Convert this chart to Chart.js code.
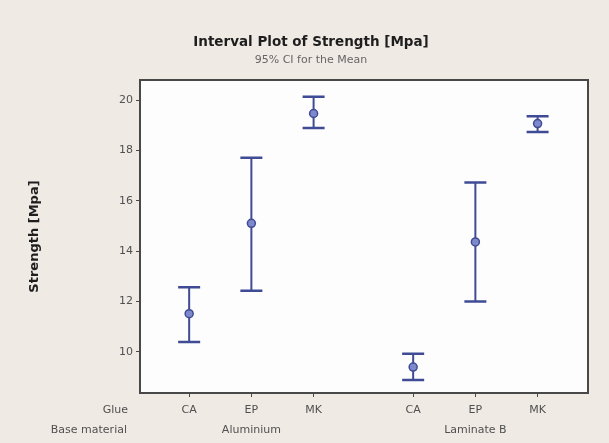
<!DOCTYPE html>
<html>
<head>
<meta charset="utf-8">
<title>Interval Plot of Strength [Mpa]</title>
<script src="https://cdn.jsdelivr.net/npm/chart.js@4.4.1/dist/chart.umd.min.js"></script>
<style>
  html, body { margin: 0; padding: 0; background: #efeae4; }
  #wrap { width: 609px; height: 443px; }
</style>
</head>
<body>
<div id="wrap"><canvas id="chart" width="609" height="443"></canvas></div>
<script>
  // ===== Data =====
  const glues         = ['CA', 'EP', 'MK'];
  const baseMaterials = ['Aluminium', 'Laminate B'];
  const means = [11.52, 15.11, 19.47, 9.40, 14.37, 19.07];
  const lower = [10.40, 12.43, 18.89, 8.89, 12.00, 18.73];
  const upper = [12.57, 17.71, 20.13, 9.93, 16.73, 19.36];
  const yTicks = [10, 12, 14, 16, 18, 20];

  // ===== Layout helpers =====
  const GROUP_GAP = 3.6;   // distance between first glue of each base material
  const positions = means.map((_, i) => 1 + Math.floor(i / glues.length) * GROUP_GAP + (i % glues.length));

  const BLUE      = '#3f4b94';
  const BLUE_FILL = '#7e89cc';
  const TEXT      = '#505050';
  const FONT      = "'DejaVu Sans', sans-serif";

  const points = positions.map((x, i) => ({ x, y: means[i] }));

  // background, frame, CI bars and row headers
  const intervalPlot = {
    id: 'intervalPlot',
    beforeDraw(chart) {
      const { ctx, chartArea: a } = chart;
      ctx.save();
      ctx.fillStyle = '#efeae4';
      ctx.fillRect(0, 0, chart.width, chart.height);
      ctx.fillStyle = '#fdfdfd';
      ctx.fillRect(a.left, a.top, a.right - a.left, a.bottom - a.top);
      ctx.restore();
    },
    beforeDatasetsDraw(chart) {
      const { ctx, scales: { x, y } } = chart;
      ctx.save();
      ctx.strokeStyle = BLUE;
      positions.forEach((p, i) => {
        const px = x.getPixelForValue(p);
        const yl = y.getPixelForValue(lower[i]);
        const yu = y.getPixelForValue(upper[i]);
        ctx.lineWidth = 2;
        ctx.beginPath();
        ctx.moveTo(px, yl);
        ctx.lineTo(px, yu);
        ctx.stroke();
        ctx.lineWidth = 2.5;
        ctx.beginPath();
        ctx.moveTo(px - 11, yl); ctx.lineTo(px + 11, yl);
        ctx.moveTo(px - 11, yu); ctx.lineTo(px + 11, yu);
        ctx.stroke();
      });
      ctx.restore();
    },
    afterDraw(chart) {
      const { ctx, chartArea: a } = chart;
      ctx.save();
      ctx.strokeStyle = '#484848';
      ctx.lineWidth = 2;
      ctx.strokeRect(a.left, a.top, a.right - a.left, a.bottom - a.top);
      ctx.fillStyle = TEXT;
      ctx.font = '11px ' + FONT;
      ctx.textAlign = 'right';
      ctx.textBaseline = 'middle';
      ctx.fillText('Glue', 128, 410);
      ctx.fillText('Base material', 127, 430);
      ctx.restore();
    }
  };

  new Chart(document.getElementById('chart'), {
    type: 'scatter',
    data: {
      datasets: [
        {
          data: points,
          pointStyle: 'circle',
          pointRadius: 4,
          pointBackgroundColor: BLUE_FILL,
          pointBorderColor: BLUE,
          pointBorderWidth: 1.5
        },
        {
          data: points,
          pointStyle: 'line',
          pointRadius: 3.5,
          pointBorderColor: BLUE,
          pointBorderWidth: 1.2
        }
      ]
    },
    options: {
      responsive: false,
      animation: false,
      events: [],
      layout: { padding: { left: 34, right: 21, top: 0, bottom: 0 } },
      plugins: {
        legend: { display: false },
        tooltip: { enabled: false },
        title: {
          display: true,
          text: 'Interval Plot of Strength [Mpa]',
          color: '#1e1e1e',
          font: { family: FONT, size: 13.5, weight: 'bold' },
          padding: { top: 34, bottom: 0 }
        },
        subtitle: {
          display: true,
          text: '95% CI for the Mean',
          color: '#666',
          font: { family: FONT, size: 11 },
          padding: { top: 3, bottom: 13.6 }
        }
      },
      scales: {
        x: {
          type: 'linear',
          min: 0.21,
          max: 7.41,
          afterFit: s => { s.height = 50; },
          afterBuildTicks: s => { s.ticks = positions.map(v => ({ value: v })); },
          grid: { display: true, drawOnChartArea: false, drawTicks: true, tickLength: 4, color: '#484848' },
          border: { display: false },
          ticks: {
            autoSkip: false,
            maxRotation: 0,
            padding: 3,
            color: TEXT,
            font: { family: FONT, size: 11, lineHeight: 1.82 },
            callback: (v, i) => [
              glues[i % glues.length],
              i % glues.length === 1 ? baseMaterials[Math.floor(i / glues.length)] : ''
            ]
          }
        },
        y: {
          min: 8.37,
          max: 20.8,
          afterFit: s => { s.width = 106; },
          afterBuildTicks: s => { s.ticks = yTicks.map(v => ({ value: v })); },
          grid: { display: true, drawOnChartArea: false, drawTicks: true, tickLength: 4, color: '#484848' },
          border: { display: false },
          title: {
            display: true,
            text: 'Strength [Mpa]',
            color: '#1e1e1e',
            font: { family: FONT, size: 13, weight: 'bold' },
            padding: { top: -7, bottom: 0 }
          },
          ticks: {
            padding: 3,
            color: TEXT,
            font: { family: FONT, size: 11 }
          }
        }
      }
    },
    plugins: [intervalPlot]
  });
</script>
</body>
</html>
